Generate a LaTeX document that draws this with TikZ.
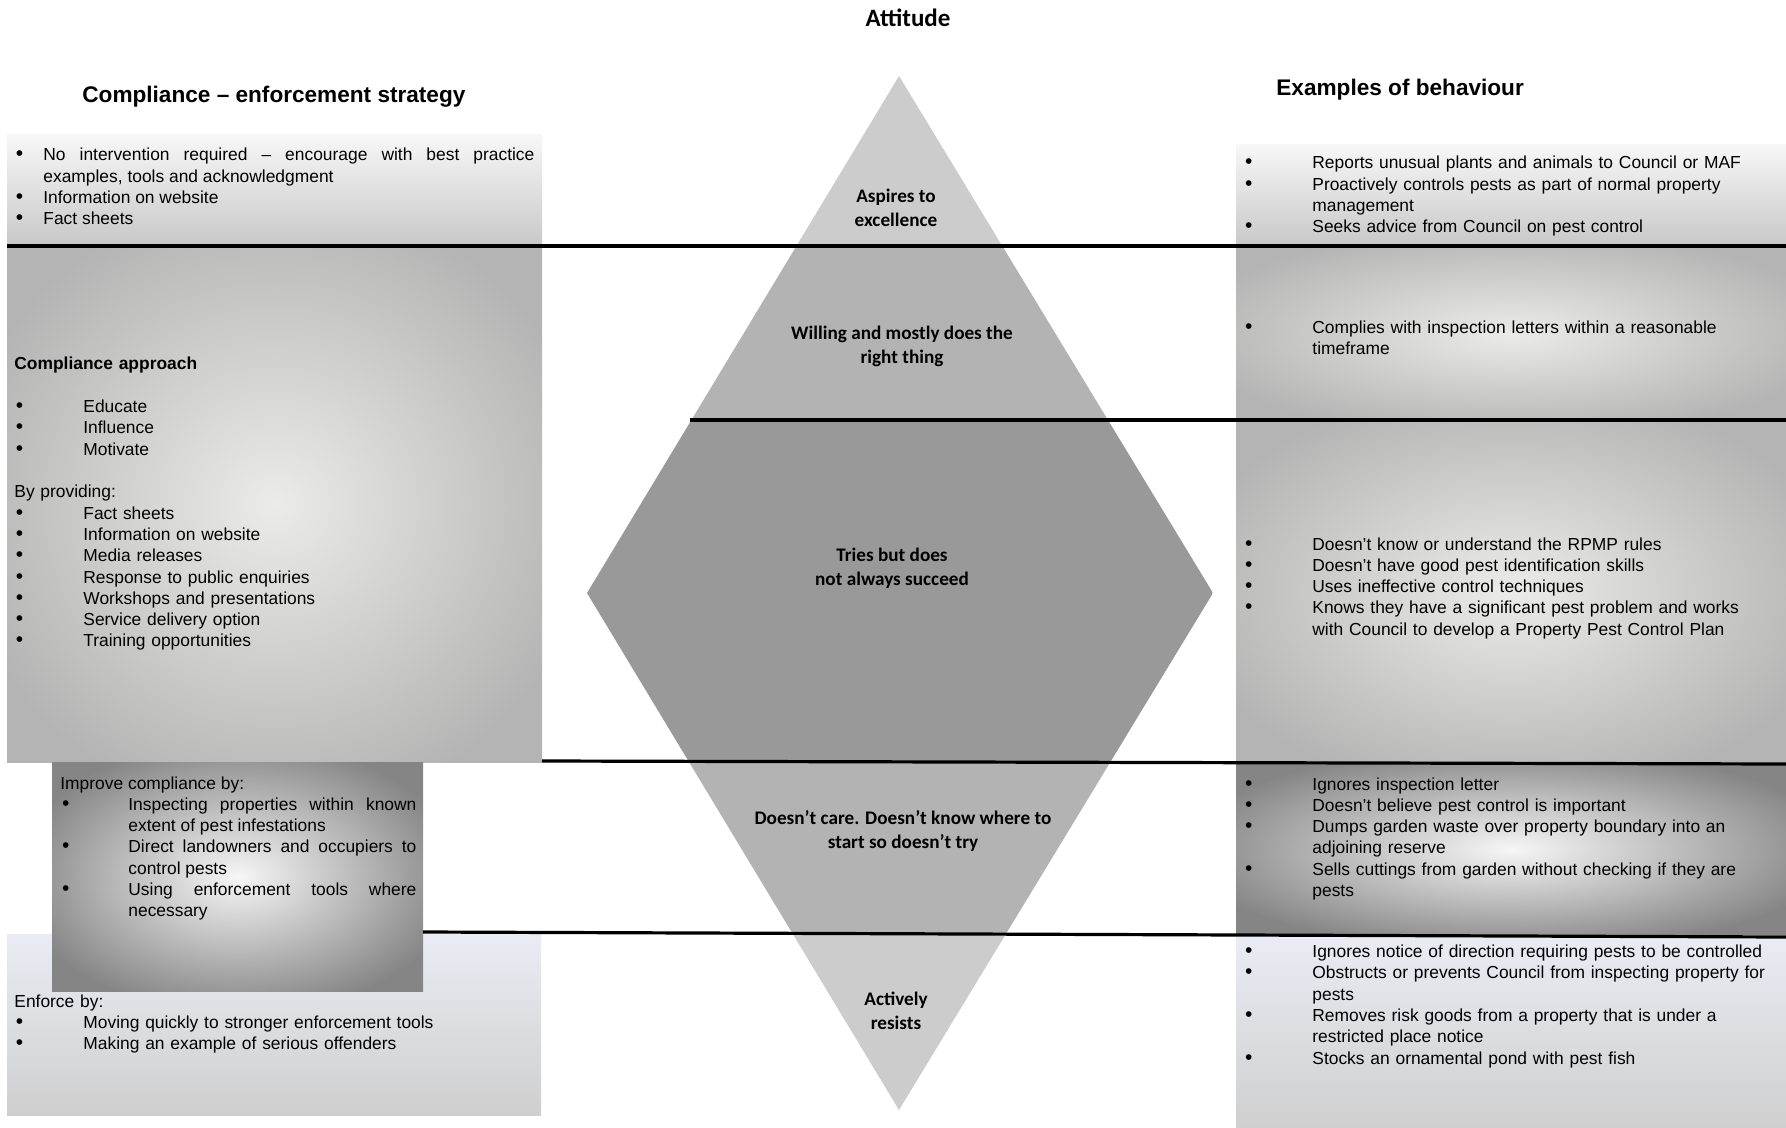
\documentclass[tikz,border=0pt]{standalone}
\usepackage{fontspec}
\setmainfont{Liberation Sans}
\newfontfamily\calibri{Carlito}
\usepackage{tikz}
\definecolor{franjaclara}{RGB}{204,204,204}
\definecolor{franjamedia}{RGB}{179,179,179}
\definecolor{franjaoscura}{RGB}{153,153,153}
\definecolor{degarriba}{RGB}{247,247,247}
\definecolor{degabajo}{RGB}{200,200,200}
\definecolor{brillo}{RGB}{235,236,231}
\definecolor{grismedio}{RGB}{180,180,180}
\definecolor{brillofuerte}{RGB}{246,246,246}
\definecolor{grisoscuro}{RGB}{133,133,133}
\definecolor{azulado}{RGB}{233,236,244}
\definecolor{grisfondo}{RGB}{207,207,207}
\pgfdeclareradialshading{resplandor}{\pgfpoint{0bp}{0bp}}
  {color(0bp)=(brillo); color(30bp)=(grismedio); color(50bp)=(grismedio)}
\pgfdeclareradialshading{resplandoroscuro}{\pgfpoint{0bp}{0bp}}
  {color(0bp)=(brillofuerte); color(30bp)=(grisoscuro); color(50bp)=(grisoscuro)}
\setlength{\parindent}{0pt}
\newcommand{\primera}[1][34.5pt]{\hangindent=#1\hangafter=1
  \makebox[#1][l]{\hspace{0.8pt}{\fontsize{10.5}{10}\selectfont\textbullet}}\ignorespaces}
\newcommand{\vineta}[1][34.5pt]{\par\noindent\primera[#1]}
\newcommand{\blanco}{\par\vspace{10.65pt}}

\begin{document}
\begin{tikzpicture}[x=0.5pt, y=-0.5pt,
  texto/.style={anchor=base west, inner sep=0pt,
    font=\fontsize{8.7}{10.65}\selectfont},
  encabezado/.style={anchor=base west, inner sep=0pt,
    font=\bfseries\fontsize{11.3}{13}\selectfont},
  etiqueta/.style={align=center, inner sep=0pt,
    font=\calibri\bfseries\fontsize{9.6}{12}\selectfont},
  separador/.style={line width=1.6pt, black},
]
  \useasboundingbox (0,0) rectangle (1786,1128);
  % Cajas de la izquierda
  \shade[top color=degarriba, bottom color=degabajo] (7,135) rectangle (542,246);
  \shade[shading=resplandor] (7,246) rectangle (542,762);
  \shade[top color=azulado, bottom color=grisfondo] (7,934) rectangle (541,1115);
  \shade[shading=resplandoroscuro] (52,762) rectangle (423,991);
  % Cajas de la derecha
  \shade[top color=degarriba, bottom color=degabajo] (1236,145) rectangle (1786,246);
  \shade[shading=resplandor] (1236,246) rectangle (1786,420);
  \shade[shading=resplandor] (1236,420) rectangle (1786,763);
  \shade[shading=resplandoroscuro] (1236,763) rectangle (1786,935);
  \shade[top color=azulado, bottom color=grisfondo] (1236,935) rectangle (1786,1128);
  % Rombo por franjas
  \begin{scope}
    \clip (899,76) -- (1213,593) -- (899,1110) -- (587,593) -- cycle;
    \fill[franjaclara] (587,76) rectangle (1213,246);
    \fill[franjamedia] (587,246) rectangle (1213,420);
    \fill[franjaoscura] (587,420) rectangle (1213,762);
    \fill[franjamedia] (587,762) rectangle (1213,934);
    \fill[franjaclara] (587,934) rectangle (1213,1110);
  \end{scope}
  % Separadores
  \draw[separador] (7,246) -- (1786,246);
  \draw[separador] (690,420) -- (1786,420);
  \draw[separador] (542,761) -- (1786,764);
  \draw[separador] (423,932) -- (1786,937);
  % Titulos
  \node[etiqueta, font=\calibri\bfseries\fontsize{12.5}{14}\selectfont] (actitud)
    at (908,18) {Attitude};
  \node[encabezado] (estrategia) at (82,103) {Compliance – enforcement strategy};
  \node[encabezado] (ejemplos) at (1276,96) {Examples of behaviour};
  % Niveles del rombo
  \node[etiqueta] (aspira) at (896,208) {Aspires to\\excellence};
  \node[etiqueta] (dispuesto) at (902,346) {Willing and mostly does the\\right thing};
  \node[etiqueta] (intenta) at (892,568) {Tries but does\\not always succeed};
  \node[etiqueta] (descuida) at (903,831)
    {Doesn’t care. Doesn’t know where to\\start so doesn’t try};
  \node[etiqueta] (resiste) at (896,1011) {Actively\\resists};
  % Estrategia
  \node[texto, text width=260pt, align=justify] (animar) at (14,161)
    {\primera[14.5pt] No intervention required – encourage with best practice\linebreak
     examples, tools and acknowledgment
     \vineta[14.5pt] Information on website
     \vineta[14.5pt] Fact sheets\par};
  \node[texto, text width=260pt, align=left] (educar) at (14,370)
    {\textbf{Compliance approach}\blanco
     \vineta Educate \vineta Influence \vineta Motivate\blanco
     By providing:
     \vineta Fact sheets
     \vineta Information on website
     \vineta Media releases
     \vineta Response to public enquiries
     \vineta Workshops and presentations
     \vineta Service delivery option
     \vineta Training opportunities\par};
  \node[texto, text width=178pt, align=justify] (mejorar) at (60,789)
    {Improve compliance by:
     \vineta[34pt] Inspecting properties within known\linebreak extent of pest infestations
     \vineta[34pt] Direct landowners and occupiers to\linebreak control pests
     \vineta[34pt] Using enforcement tools where\linebreak necessary\par};
  \node[texto, text width=260pt, align=left] (sancionar) at (14,1007)
    {Enforce by:
     \vineta Moving quickly to stronger enforcement tools
     \vineta Making an example of serious offenders\par};
  % Ejemplos de comportamiento
  \node[texto, text width=272pt, align=left] (ejemplo1) at (1243,169)
    {\primera Reports unusual plants and animals to Council or MAF
     \vineta Proactively controls pests as part of normal property\newline management
     \vineta Seeks advice from Council on pest control\par};
  \node[texto, text width=272pt, align=left] (ejemplo2) at (1243,333.5)
    {\primera Complies with inspection letters within a reasonable\newline timeframe\par};
  \node[texto, text width=272pt, align=left] (ejemplo3) at (1243,550)
    {\primera Doesn’t know or understand the RPMP rules
     \vineta Doesn’t have good pest identification skills
     \vineta Uses ineffective control techniques
     \vineta Knows they have a significant pest problem and works\newline
       with Council to develop a Property Pest Control Plan\par};
  \node[texto, text width=272pt, align=left] (ejemplo4) at (1243,790)
    {\primera Ignores inspection letter
     \vineta Doesn’t believe pest control is important
     \vineta Dumps garden waste over property boundary into an\newline adjoining reserve
     \vineta Sells cuttings from garden without checking if they are\newline pests\par};
  \node[texto, text width=272pt, align=left] (ejemplo5) at (1243,957.5)
    {\primera Ignores notice of direction requiring pests to be controlled
     \vineta Obstructs or prevents Council from inspecting property for\newline pests
     \vineta Removes risk goods from a property that is under a\newline restricted place notice
     \vineta Stocks an ornamental pond with pest fish\par};
\end{tikzpicture}
\end{document}
